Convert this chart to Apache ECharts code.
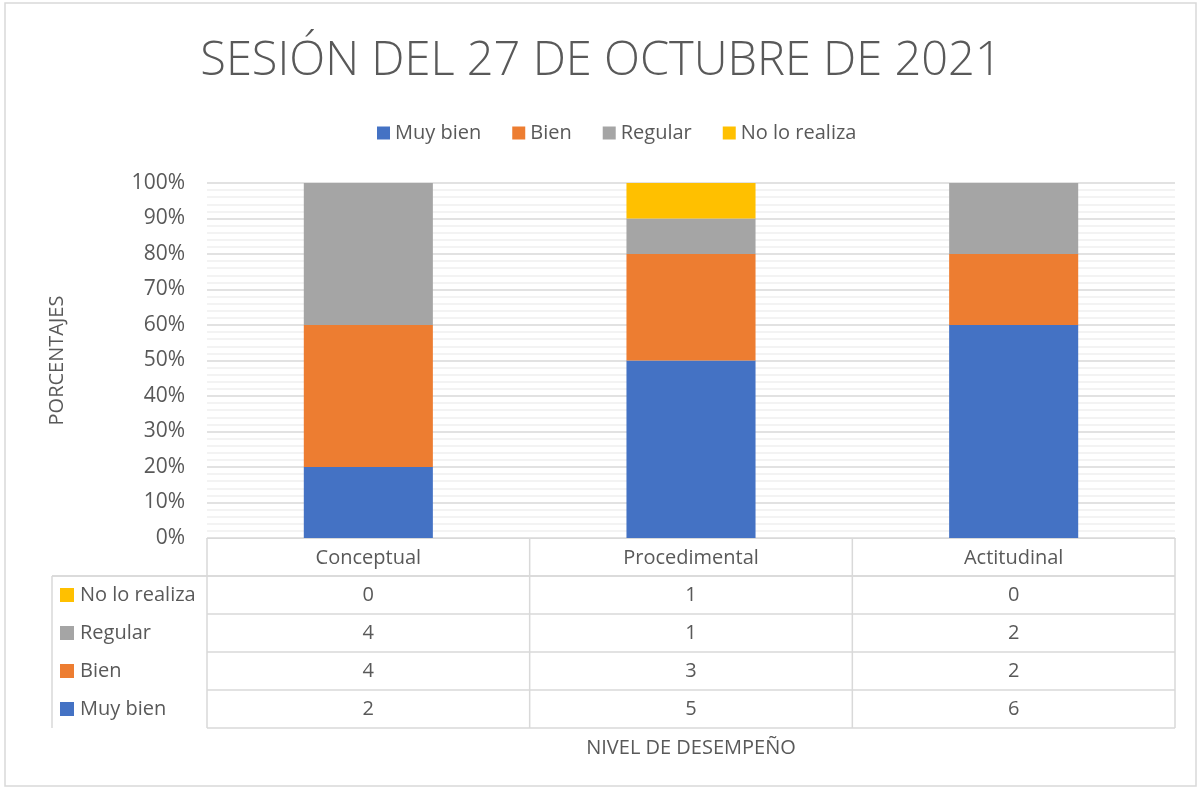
<!DOCTYPE html>
<html>
<head>
<meta charset="utf-8">
<title>Sesión del 27 de octubre de 2021</title>
<script src="https://cdn.jsdelivr.net/npm/echarts@6/dist/echarts.min.js"></script>
<style>
  html, body { margin: 0; padding: 0; background: #fff; }
  #main { width: 1202px; height: 790px; }
</style>
</head>
<body>
<div id="main"></div>
<script>
// datos
var categorias = ['Conceptual', 'Procedimental', 'Actitudinal'];
var muyBien = [2, 5, 6];
var bien = [4, 3, 2];
var regular = [4, 1, 2];
var noLoRealiza = [0, 1, 0];
var ticksY = [0, 10, 20, 30, 40, 50, 60, 70, 80, 90, 100];

var series_def = [
  { name: 'Muy bien', data: muyBien, color: '#4472C4' },
  { name: 'Bien', data: bien, color: '#ED7D31' },
  { name: 'Regular', data: regular, color: '#A5A5A5' },
  { name: 'No lo realiza', data: noLoRealiza, color: '#FFC000' }
];

var fuente = '"Open Sans", "Noto Sans", sans-serif';
var gris = '#595959';
var linea = '#d9d9d9';
var TXT = 20;

// geometria del grafico
var L = 207, R = 1175, T = 183, B = 538, FILA = 38, COL0 = 52;

// totales por categoria para el 100% apilado
var totales = categorias.map(function (c, i) {
  var s = 0;
  series_def.forEach(function (d) { s += d.data[i]; });
  return s;
});

var series = series_def.map(function (d) {
  return {
    name: d.name,
    type: 'bar',
    stack: 'total',
    barWidth: '40%',
    itemStyle: { color: d.color },
    data: d.data.map(function (v, i) { return v / totales[i] * 100; })
  };
});

// filas de la tabla (de arriba a abajo)
var filas = series_def.slice().reverse();

var xAxes = [{
  type: 'category',
  data: categorias,
  axisLine: { show: true, lineStyle: { color: linea, width: 1 } },
  axisTick: { show: false },
  axisLabel: { color: gris, fontSize: TXT, fontFamily: fuente, margin: 10 },
  name: 'NIVEL DE DESEMPEÑO',
  nameLocation: 'middle',
  nameGap: 200,
  nameTextStyle: { color: gris, fontSize: 20, fontFamily: fuente }
}];
filas.forEach(function (f, k) {
  xAxes.push({
    type: 'category',
    position: 'bottom',
    offset: FILA * (k + 1),
    data: f.data.map(String),
    axisLine: { show: false },
    axisTick: { show: false },
    axisLabel: { color: gris, fontSize: TXT, fontFamily: fuente, margin: 9 }
  });
});

// lineas de la tabla y leyenda de filas
var graficos = [];
function lineaH(x1, x2, y) {
  graficos.push({ type: 'line', shape: { x1: x1, y1: y, x2: x2, y2: y }, style: { stroke: linea, lineWidth: 1.5 }, silent: true });
}
function lineaV(x, y1, y2) {
  graficos.push({ type: 'line', shape: { x1: x, y1: y1, x2: x, y2: y2 }, style: { stroke: linea, lineWidth: 1.5 }, silent: true });
}
var anchoCat = (R - L) / categorias.length;
for (var k = 1; k <= filas.length + 1; k++) {
  lineaH(k === 1 ? COL0 : L, R, B + FILA * k);
}
lineaH(COL0, R, B + FILA);
lineaV(COL0, B + FILA, B + FILA * (filas.length + 1));
for (var c = 0; c <= categorias.length; c++) {
  lineaV(L + anchoCat * c, B, B + FILA * (filas.length + 1));
}
filas.forEach(function (f, k) {
  var yc = B + FILA * (k + 1) + FILA / 2;
  graficos.push({ type: 'rect', shape: { x: 60, y: yc - 7, width: 14, height: 14 }, style: { fill: f.color }, silent: true });
  graficos.push({ type: 'text', x: 80, y: yc, style: { text: f.name, fill: gris, font: TXT + 'px ' + fuente, textVerticalAlign: 'middle' }, silent: true });
});
// marco exterior
graficos.push({ type: 'rect', shape: { x: 5, y: 3, width: 1191, height: 783 }, style: { fill: null, stroke: linea, lineWidth: 1.5 }, silent: true });

var chart = echarts.init(document.getElementById('main'));
chart.setOption({
  backgroundColor: '#fff',
  animation: false,
  title: {
    text: 'SESIÓN DEL 27 DE OCTUBRE DE 2021',
    left: 'center',
    top: 33,
    textStyle: { color: gris, fontSize: 47, fontWeight: 300, fontFamily: fuente }
  },
  legend: {
    top: 118,
    left: 372,
    itemWidth: 13,
    itemHeight: 13,
    itemGap: 31,
    icon: 'rect',
    textStyle: { color: gris, fontSize: TXT, fontFamily: fuente },
    data: series_def.map(function (d) { return d.name; })
  },
  grid: { left: L, right: 1202 - R, top: T, bottom: 790 - B, containLabel: false },
  xAxis: xAxes,
  yAxis: {
    type: 'value',
    min: ticksY[0],
    max: ticksY[ticksY.length - 1],
    interval: 10,
    axisLine: { show: false },
    axisTick: { show: false },
    axisLabel: { color: gris, fontSize: 21, fontFamily: fuente, margin: 22, formatter: '{value}%' },
    splitLine: { show: true, lineStyle: { color: linea, width: 1.5 } },
    minorTick: { show: false, splitNumber: 5 },
    minorSplitLine: { show: true, lineStyle: { color: '#f0f0f0', width: 1.5 } },
    name: 'PORCENTAJES',
    nameLocation: 'middle',
    nameRotate: 90,
    nameGap: 140,
    nameTextStyle: { color: gris, fontSize: 20, fontFamily: fuente }
  },
  series: series,
  graphic: graficos
});
</script>
</body>
</html>
